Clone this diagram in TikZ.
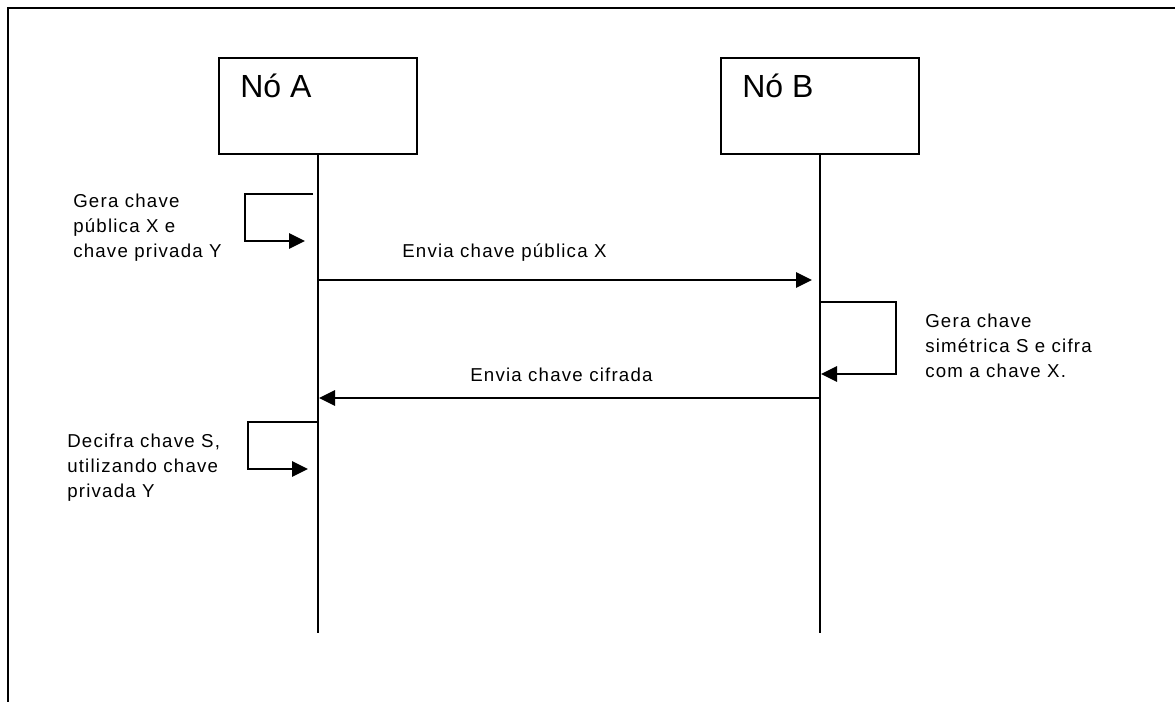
\documentclass[tikz,border=0pt]{standalone}
\usepackage{fontspec}
\setmainfont{Liberation Sans}
\usetikzlibrary{arrows.meta}
\newfontfamily\spacedfont[LetterSpace=6.5]{Liberation Sans}
\begin{document}
\begin{tikzpicture}[x=0.75pt,y=-0.75pt,
  frameline/.style={line width=2.2pt},
  actor/.style={draw,line width=1.5pt,minimum width=148.5pt,minimum height=72pt,inner sep=0pt},
  actorname/.style={anchor=base west,inner sep=0pt,font=\fontsize{24}{28}\selectfont},
  lifeline/.style={line width=1.2pt},
  msg/.style={line width=1.6pt,-{Triangle[length=12pt,width=11.5pt]}},
  msglabel/.style={anchor=base west,inner sep=0pt,font=\spacedfont\fontsize{14}{18.75}\selectfont},
  note/.style={anchor=north west,inner sep=0pt,align=left,font=\spacedfont\fontsize{14}{18.75}\selectfont}]
\useasboundingbox (0,0) rectangle (1175,702);

% open frame: top and left edges only
\coordinate (fbl) at (8,720);
\coordinate (ftl) at (8,8);
\coordinate (ftr) at (1190,8);
\draw[frameline] (fbl) -- (ftl) -- (ftr);

% participants
\node[actor] (A) at (318,106) {};
\node[actor] (B) at (820,106) {};
\node[actorname] (Aname) at (240,98) {Nó A};
\node[actorname] (Bname) at (742,98) {Nó B};

% lifelines
\coordinate (Aend) at (318,633);
\coordinate (Bend) at (820,633);
\draw[lifeline] (A.south) -- (Aend);
\draw[lifeline] (B.south) -- (Bend);

% A generates its key pair
\coordinate (a1s) at (313,194);
\coordinate (a1e) at (305,241);
\draw[msg] (a1s) -- ++(-68,0) |- (a1e);
\node[note] (a1txt) at (73,193.5) {Gera chave\\pública X e\\chave privada Y};

% A sends public key to B
\coordinate (m1s) at (318,280);
\coordinate (m1e) at (812,280);
\draw[msg] (m1s) -- (m1e);
\node[msglabel] (m1txt) at (402,258) {Envia chave pública X};

% B builds and encrypts the symmetric key
\coordinate (b1s) at (820,302);
\coordinate (b1e) at (821,374);
\draw[msg] (b1s) -- ++(76,0) |- (b1e);
\node[note] (b1txt) at (925,313.5) {Gera chave\\simétrica S e cifra\\com a chave X.};

% B sends encrypted key to A
\coordinate (m2s) at (820,398);
\coordinate (m2e) at (319,398);
\draw[msg] (m2s) -- (m2e);
\node[msglabel] (m2txt) at (470,382) {Envia chave cifrada};

% A decrypts the symmetric key
\coordinate (a2s) at (317,422);
\coordinate (a2e) at (308,469);
\draw[msg] (a2s) -- ++(-69,0) |- (a2e);
\node[note] (a2txt) at (67,433.5) {Decifra chave S,\\utilizando chave\\privada Y};
\end{tikzpicture}
\end{document}
